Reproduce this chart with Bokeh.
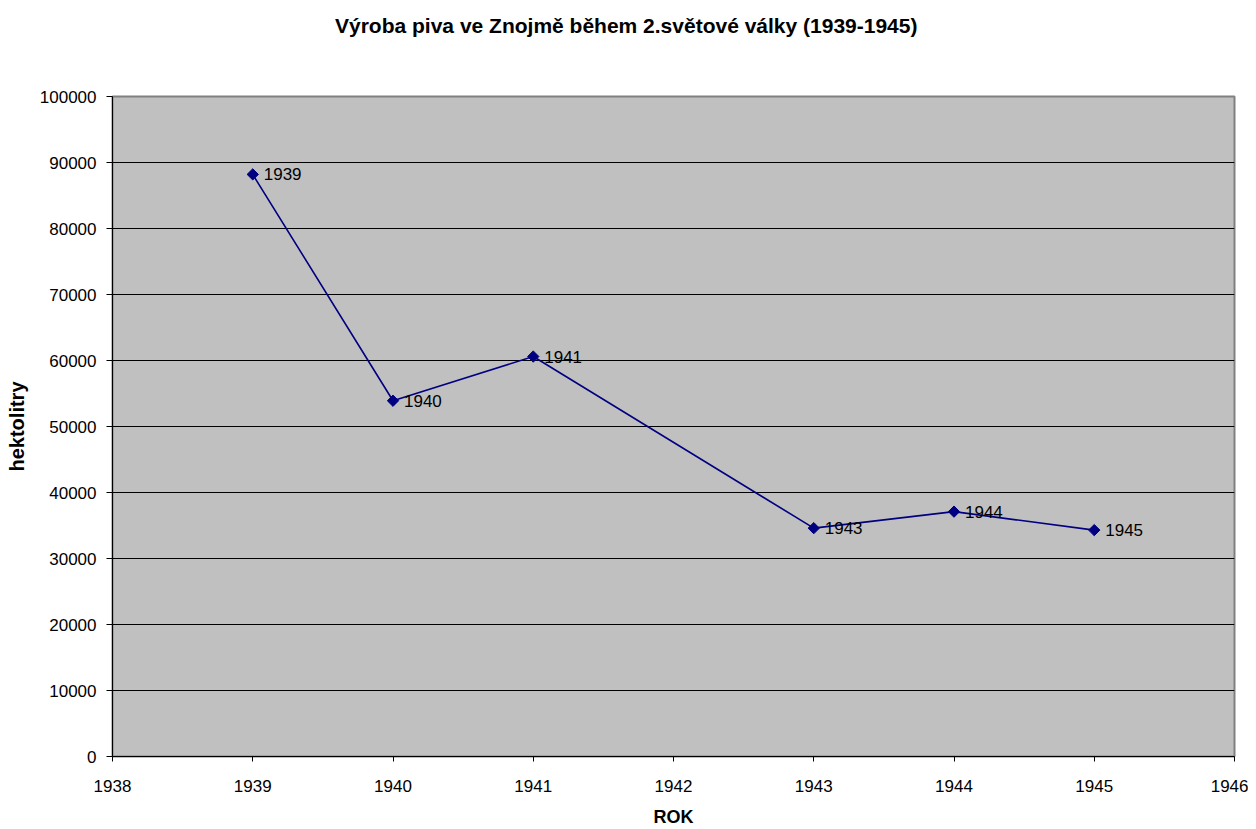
import math
from bokeh.plotting import figure
from bokeh.layouts import column
from bokeh.models import ColumnDataSource, Range1d, FixedTicker, LabelSet, BasicTickFormatter, Div
from bokeh.core.properties import value
from bokeh.embed import file_html
from bokeh.resources import INLINE

# ---- data ----
years = [1939, 1940, 1941, 1943, 1944, 1945]
hectoliters = [88200, 53900, 60600, 34600, 37100, 34300]
point_labels = ["1939", "1940", "1941", "1943", "1944", "1945"]
x_ticks = [1938, 1939, 1940, 1941, 1942, 1943, 1944, 1945, 1946]
y_ticks = [0, 10000, 20000, 30000, 40000, 50000, 60000, 70000, 80000, 90000, 100000]

title_text = "Výroba piva ve Znojmě během 2.světové války (1939-1945)"
x_label = "ROK"
y_label = "hektolitry"

FONT = "Liberation Sans"

src = ColumnDataSource(dict(x=years, y=hectoliters, lbl=point_labels))

title_div = Div(text=title_text, width=1248, height=52, margin=0,
                styles={"font-family": FONT, "font-size": "21px", "font-weight": "bold",
                        "color": "black", "line-height": "51px", "text-align": "left",
                        "text-indent": "335px", "white-space": "nowrap"})

p = figure(width=1248, height=777, output_backend="svg", toolbar_location=None,
           x_range=Range1d(1938, 1946), y_range=Range1d(0, 100000),
           min_border_left=112, min_border_right=14, min_border_top=44, min_border_bottom=73)

p.background_fill_color = "#C0C0C0"
p.border_fill_color = "white"
p.outline_line_color = "#808080"
p.outline_line_width = 2

p.xgrid.grid_line_color = None
p.ygrid.grid_line_color = "black"
p.ygrid.grid_line_width = 1
p.ygrid.ticker = FixedTicker(ticks=y_ticks)

p.xaxis.ticker = FixedTicker(ticks=x_ticks)
p.yaxis.ticker = FixedTicker(ticks=y_ticks)
p.yaxis.formatter = BasicTickFormatter(use_scientific=False)

for ax in (p.xaxis[0], p.yaxis[0]):
    ax.axis_line_color = "black"
    ax.axis_line_width = 1
    ax.major_tick_line_color = "black"
    ax.major_tick_in = 0
    ax.minor_tick_line_color = None
    ax.major_label_text_font = FONT
    ax.major_label_text_font_size = "17px"
    ax.major_label_text_color = "black"
    ax.axis_label_text_font = FONT
    ax.axis_label_text_font_style = "bold"
    ax.axis_label_text_color = "black"

p.xaxis.axis_label = x_label
p.yaxis.axis_label = y_label
p.xaxis.axis_label_text_font_size = "18px"
p.yaxis.axis_label_text_font_size = "20px"
p.xaxis.major_tick_out = 5
p.xaxis.major_label_standoff = 18
p.xaxis.axis_label_standoff = 12
p.yaxis.major_tick_out = 6
p.yaxis.major_label_standoff = 10
p.yaxis.axis_label_standoff = 9

p.line("x", "y", source=src, line_color="#000080", line_width=1.6)
p.scatter("x", "y", source=src, marker="square", angle=math.pi / 4, size=8,
          fill_color="#000080", line_color="#000080")

labels = LabelSet(x="x", y="y", text="lbl", source=src, x_offset=11, y_offset=0,
                  text_baseline="middle", text_align="left",
                  text_font=value(FONT), text_font_size=value("17px"),
                  text_color="black")
p.add_layout(labels)

layout = column(title_div, p, spacing=0)

open("out.html", "w").write(file_html(layout, INLINE))
